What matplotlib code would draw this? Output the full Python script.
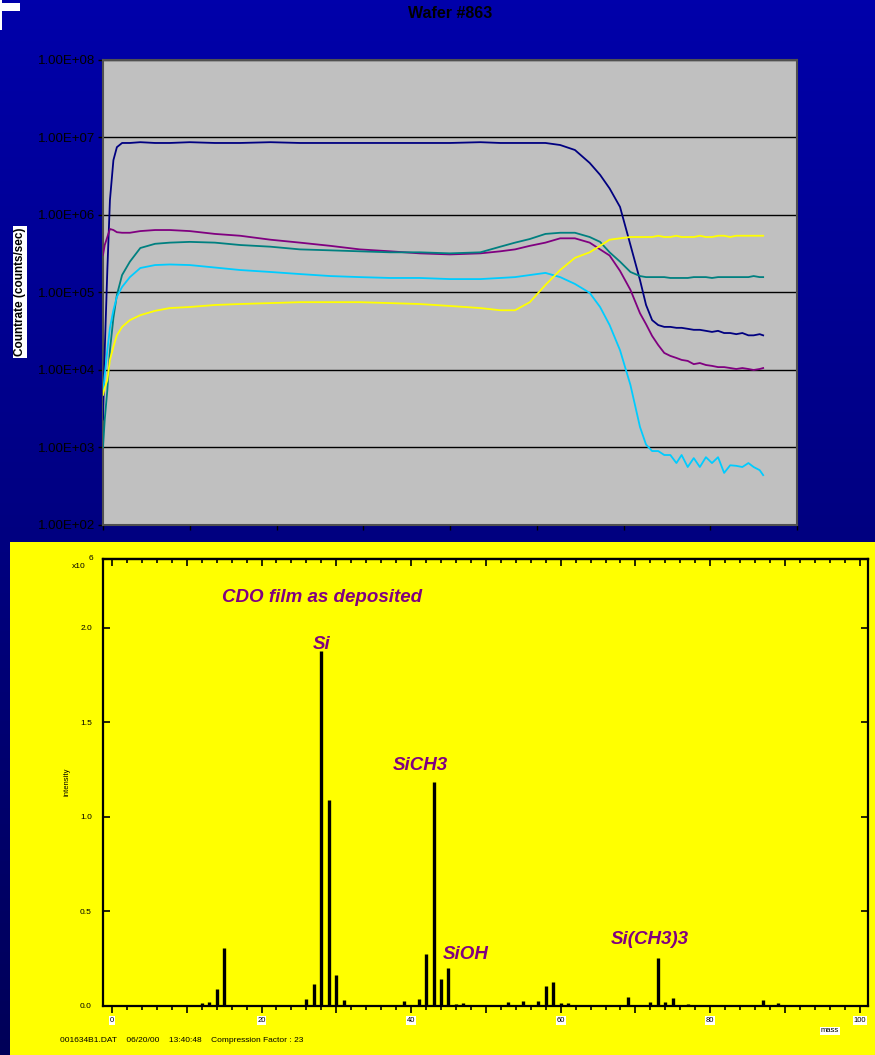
import numpy as np
import matplotlib
matplotlib.use('Agg')
import matplotlib.pyplot as plt
from matplotlib.colors import LinearSegmentedColormap
from matplotlib.patches import Rectangle
from matplotlib.ticker import MultipleLocator, FuncFormatter, NullLocator

plt.rcParams['font.family'] = ['Liberation Sans', 'DejaVu Sans']

# ---- depth profile, Wafer #863 (countrate vs sputter time) ----
time = [0, 2, 5, 8, 12, 16, 22, 31, 43, 60, 77, 100, 129, 158, 193, 227, 262, 296, 331, 365,
        400, 435, 458, 475, 492, 510, 527, 544, 561, 573, 584, 596, 608, 619, 626, 633, 640, 647,
        654, 661, 667, 674, 681, 688, 695, 702, 709, 716, 723, 730, 737, 744, 750, 757, 761]

navy = [2.3e3, 1.8e4, 1.95e5, 1.56e6, 5.1e6, 7.5e6, 8.5e6, 8.5e6, 8.7e6, 8.5e6, 8.5e6, 8.7e6,
        8.5e6, 8.5e6, 8.7e6, 8.5e6, 8.5e6, 8.5e6, 8.5e6, 8.5e6, 8.5e6, 8.7e6, 8.5e6, 8.5e6,
        8.5e6, 8.5e6, 8.0e6, 6.9e6, 4.7e6, 3.3e6, 2.2e6, 1.27e6, 4.1e5, 1.45e5, 6.9e4, 4.4e4,
        3.8e4, 3.6e4, 3.6e4, 3.5e4, 3.5e4, 3.4e4, 3.3e4, 3.3e4, 3.2e4, 3.1e4, 3.2e4, 3.0e4,
        3.0e4, 2.9e4, 3.0e4, 2.8e4, 2.8e4, 2.9e4, 2.8e4]

purple = [3.05e5, 4.1e5, 5.2e5, 6.6e5, 6.4e5, 6.0e5, 5.9e5, 5.9e5, 6.2e5, 6.4e5, 6.4e5, 6.2e5,
          5.7e5, 5.4e5, 4.8e5, 4.4e5, 4.0e5, 3.6e5, 3.4e5, 3.2e5, 3.1e5, 3.2e5, 3.4e5, 3.6e5,
          4.0e5, 4.4e5, 5.0e5, 5.0e5, 4.4e5, 3.6e5, 3.0e5, 1.9e5, 1.08e5, 5.4e4, 3.9e4, 2.75e4,
          2.1e4, 1.66e4, 1.52e4, 1.43e4, 1.35e4, 1.31e4, 1.19e4, 1.23e4, 1.16e4, 1.13e4, 1.09e4,
          1.09e4, 1.06e4, 1.03e4, 1.06e4, 1.03e4, 1.0e4, 1.03e4, 1.06e4]

teal = [1.01e3, 2.3e3, 5.5e3, 1.8e4, 4.7e4, 9.3e4, 1.68e5, 2.5e5, 3.75e5, 4.25e5, 4.4e5, 4.5e5,
        4.4e5, 4.1e5, 3.9e5, 3.6e5, 3.5e5, 3.4e5, 3.3e5, 3.3e5, 3.2e5, 3.3e5, 3.9e5, 4.4e5,
        4.9e5, 5.7e5, 5.9e5, 5.9e5, 5.2e5, 4.5e5, 3.3e5, 2.5e5, 1.84e5, 1.63e5, 1.58e5, 1.58e5,
        1.58e5, 1.58e5, 1.54e5, 1.54e5, 1.54e5, 1.54e5, 1.58e5, 1.58e5, 1.58e5, 1.54e5, 1.58e5,
        1.58e5, 1.58e5, 1.58e5, 1.58e5, 1.58e5, 1.63e5, 1.58e5, 1.58e5]

cyan = [4.8e3, 8.6e3, 1.8e4, 3.5e4, 5.9e4, 8.8e4, 1.18e5, 1.58e5, 2.07e5, 2.26e5, 2.3e5, 2.26e5,
        2.1e5, 1.95e5, 1.84e5, 1.73e5, 1.63e5, 1.58e5, 1.54e5, 1.54e5, 1.49e5, 1.49e5, 1.54e5,
        1.58e5, 1.68e5, 1.79e5, 1.58e5, 1.29e5, 9.9e4, 6.5e4, 3.8e4, 1.8e4, 6.4e3, 1.84e3,
        1.09e3, 9.0e2, 9.0e2, 8.0e2, 8.0e2, 6.3e2, 8.0e2, 5.6e2, 7.3e2, 5.6e2, 7.5e2, 6.3e2,
        7.5e2, 4.7e2, 5.9e2, 5.8e2, 5.6e2, 6.3e2, 5.6e2, 5.1e2, 4.4e2]

yellow = [4.8e3, 5.9e3, 7.4e3, 1.35e4, 2.0e4, 2.8e4, 3.6e4, 4.4e4, 5.1e4, 5.8e4, 6.3e4, 6.5e4,
          6.9e4, 7.1e4, 7.3e4, 7.5e4, 7.5e4, 7.5e4, 7.3e4, 7.1e4, 6.7e4, 6.3e4, 5.9e4, 5.9e4,
          7.5e4, 1.25e5, 1.95e5, 2.8e5, 3.3e5, 4.0e5, 4.8e5, 5.0e5, 5.2e5, 5.2e5, 5.2e5, 5.2e5,
          5.4e5, 5.2e5, 5.2e5, 5.4e5, 5.2e5, 5.2e5, 5.2e5, 5.4e5, 5.2e5, 5.2e5, 5.4e5, 5.4e5,
          5.2e5, 5.4e5, 5.4e5, 5.4e5, 5.4e5, 5.4e5, 5.4e5]

profile_colors = ['#000080', '#800080', '#008080', '#00CCFF', '#FFFF00']

# ---- mass spectrum, CDO film as deposited (intensity x10^6) ----
mass = [12, 13, 14, 15, 16, 17, 18, 26, 27, 28, 29, 30, 31, 32, 38, 39, 40, 41, 42, 43, 44, 45,
        46, 47, 51, 53, 55, 57, 58, 59, 60, 61, 69, 72, 73, 74, 75, 77, 87, 88, 89]
intensity = [0.015, 0.02, 0.09, 0.307, 0.005, 0.004, 0.004, 0.035, 0.116, 1.88, 1.09, 0.164,
             0.03, 0.004, 0.005, 0.027, 0.006, 0.037, 0.275, 1.185, 0.143, 0.2, 0.012, 0.015,
             0.005, 0.02, 0.025, 0.027, 0.106, 0.127, 0.015, 0.018, 0.05, 0.023, 0.252, 0.023,
             0.04, 0.008, 0.03, 0.005, 0.018]
peak_names = ['Si', 'SiCH3', 'SiOH', 'Si(CH3)3']
peak_pos = [(28, 1.91), (41.3, 1.27), (44.3, 0.275), (66.7, 0.35)]
peak_ha = ['center', 'center', 'left', 'left']

W, H = 875, 1055


def box(x0, y0, x1, y1):
    return [x0 / W, 1 - y1 / H, (x1 - x0) / W, (y1 - y0) / H]


fig = plt.figure(figsize=(W / 100, H / 100), dpi=100)

# blue gradient background + yellow panel
bg = fig.add_axes([0, 0, 1, 1], zorder=-10)
cmap = LinearSegmentedColormap.from_list('bg', ['#0000AA', '#000058'])
bg.imshow(np.linspace(0, 1, 256).reshape(-1, 1), cmap=cmap, aspect='auto', extent=[0, 1, 0, 1])
bg.set_xlim(0, 1)
bg.set_ylim(0, 1)
bg.axis('off')
bg.add_patch(Rectangle((10 / W, 0), 1, 1 - 542 / H, color='#FFFF00', lw=0))
bg.add_patch(Rectangle((0, 1 - 11 / H), 20 / W, 8 / H, color='white', lw=0))
bg.add_patch(Rectangle((0, 1 - 30 / H), 1.5 / W, 30 / H, color='white', lw=0))

# ---- top chart ----
ax1 = fig.add_axes(box(103, 60, 797, 525))
ax1.set_facecolor('#C0C0C0')
for vals, col in zip([navy, purple, teal, cyan, yellow], profile_colors):
    ax1.plot(time, vals, color=col, lw=1.3, zorder=3)
ax1.set_yscale('log')
ax1.set_ylim(1e2, 1e8)
ax1.set_xlim(0, 800)
ax1.set_yticks([10.0 ** k for k in range(2, 9)])
ax1.yaxis.set_major_formatter(FuncFormatter(lambda v, _: '%.2E' % v))
ax1.yaxis.set_minor_locator(NullLocator())
ax1.xaxis.set_major_locator(MultipleLocator(100))
ax1.set_xticklabels([])
ax1.grid(axis='y', color='black', lw=1, zorder=1)
ax1.tick_params(axis='both', direction='out', length=3.5, width=1, color='black',
                labelsize=9.5, labelcolor='black', pad=2)
for s in ax1.spines.values():
    s.set_color('#505050')
    s.set_linewidth(1.5)

fig.text(450 / W, 1 - 14 / H, 'Wafer #863', ha='center', va='center', fontsize=11.5,
         fontweight='bold', color='black')
fig.text(20 / W, 1 - 292 / H, 'Countrate (counts/sec)', rotation=90, ha='center', va='center',
         fontsize=8.5, fontweight='bold', color='black',
         bbox=dict(facecolor='white', edgecolor='none', pad=1))

# ---- bottom chart ----
ax2 = fig.add_axes(box(103, 559, 868, 1006))
ax2.set_facecolor('#FFFF00')
ax2.vlines(mass, 0, intensity, color='black', lw=2.4)
ax2.set_xlim(-1.2, 101.1)
ax2.set_ylim(0, 2.365)
ax2.xaxis.set_major_locator(MultipleLocator(10))
ax2.xaxis.set_minor_locator(MultipleLocator(2))
ax2.xaxis.set_major_formatter(FuncFormatter(lambda v, _: '%d' % v if round(v) % 20 == 0 else ''))
ax2.yaxis.set_major_locator(MultipleLocator(0.5))
ax2.yaxis.set_major_formatter(FuncFormatter(lambda v, _: '%.1f' % v))
ax2.tick_params(axis='x', which='major', direction='out', length=5, width=1.2, labelsize=5.5, pad=3)
ax2.tick_params(axis='x', which='minor', direction='out', length=3, width=1.2)
ax2.tick_params(axis='y', which='major', direction='in', length=5, width=1.2, right=True,
                labelsize=6, pad=8)
for lbl in ax2.get_xticklabels():
    lbl.set_bbox(dict(facecolor='white', edgecolor='none', pad=0.5))
for s in ax2.spines.values():
    s.set_linewidth(1.6)

sec = ax2.secondary_xaxis('top')
sec.xaxis.set_major_locator(MultipleLocator(10))
sec.xaxis.set_minor_locator(MultipleLocator(2))
sec.tick_params(axis='x', which='major', direction='in', length=5, width=1.2, labeltop=False)
sec.tick_params(axis='x', which='minor', direction='in', length=3, width=1.2)
sec.spines['top'].set_linewidth(1.6)

ax2.text(14.7, 2.16, 'CDO film as deposited', ha='left', va='center', fontsize=13.5,
         fontweight='bold', fontstyle='italic', color='#800080')
for name, (px, py), ha in zip(peak_names, peak_pos, peak_ha):
    ax2.text(px, py, name, ha=ha, va='center', fontsize=13.5, fontweight='bold',
             fontstyle='italic', color='#800080')

fig.text(72 / W, 1 - 566 / H, 'x10', fontsize=6, va='center', ha='left')
fig.text(89 / W, 1 - 559 / H, '6', fontsize=6, va='center', ha='left')
fig.text(67 / W, 1 - 782 / H, 'intensity', rotation=90, fontsize=5.5, ha='center', va='center')
fig.text(830 / W, 1 - 1031 / H, 'mass', fontsize=5.5, ha='center', va='center',
         bbox=dict(facecolor='white', edgecolor='none', pad=0.5))
fig.text(60 / W, 1 - 1040 / H,
         '001634B1.DAT    06/20/00    13:40:48    Compression Factor : 23',
         fontsize=6, ha='left', va='center')

fig.savefig('out.png', dpi=100)
